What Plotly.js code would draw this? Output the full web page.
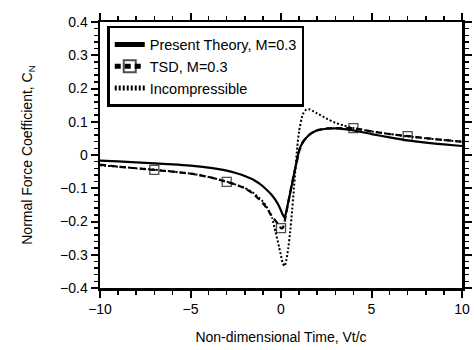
<!DOCTYPE html>
<html>
<head>
<meta charset="utf-8">
<script src="https://cdn.plot.ly/plotly-3.0.1.min.js"></script>
<style>html,body{margin:0;padding:0;background:#fff;}#chart{width:474px;height:350px;}</style>
</head>
<body>
<div id="chart"></div>
<script>
// Non-dimensional time Vt/c
const time = [-10,-9,-8,-7,-6,-5,-4,-3,-2.5,-2,-1.5,-1,-0.75,-0.5,-0.3,-0.1,0,0.1,0.2,0.3,0.4,0.5,0.6,0.7,0.8,0.9,1,1.2,1.4,1.6,1.8,2,2.5,3,3.5,4,5,6,7,8,9,10];
// Present Theory, M=0.3
const presentTheory = [-0.017,-0.019,-0.022,-0.025,-0.028,-0.032,-0.038,-0.047,-0.054,-0.063,-0.075,-0.094,-0.107,-0.121,-0.136,-0.155,-0.167,-0.180,-0.189,-0.168,-0.142,-0.116,-0.090,-0.063,-0.037,-0.012,0.014,0.038,0.052,0.062,0.069,0.074,0.079,0.080,0.078,0.074,0.063,0.053,0.044,0.037,0.032,0.027];
// TSD, M=0.3
const tsd = [-0.029,-0.035,-0.040,-0.045,-0.050,-0.056,-0.066,-0.081,-0.089,-0.100,-0.118,-0.145,-0.163,-0.184,-0.198,-0.212,-0.220,-0.219,-0.200,-0.172,-0.143,-0.114,-0.087,-0.061,-0.036,-0.012,0.011,0.038,0.053,0.063,0.070,0.075,0.080,0.081,0.081,0.081,0.071,0.063,0.057,0.051,0.045,0.040];
// TSD marker positions (x values where squares are drawn)
const tsdMarkerTimes = [-7,-3,0,4,7];
// Incompressible
const incompressible = [-0.031,-0.035,-0.040,-0.044,-0.050,-0.056,-0.066,-0.080,-0.089,-0.099,-0.115,-0.140,-0.160,-0.188,-0.232,-0.278,-0.303,-0.326,-0.334,-0.315,-0.280,-0.235,-0.175,-0.110,-0.040,0.025,0.072,0.122,0.137,0.137,0.131,0.125,0.110,0.097,0.088,0.081,0.071,0.063,0.056,0.050,0.045,0.040];

const names = ['Present Theory, M=0.3','TSD, M=0.3','Incompressible'];

const markerSizes = time.map(t => tsdMarkerTimes.includes(t) ? 9 : 0);

const traces = [
  {x: time, y: presentTheory, name: names[0], mode: 'lines', line: {color: '#000', width: 2.2, shape: 'spline', smoothing: 0.5}},
  {x: time, y: tsd, name: names[1], mode: 'lines+markers', line: {color: '#000', width: 2.2, dash: '6px,4px', shape: 'spline', smoothing: 0.5},
   marker: {symbol: 'square-open', size: markerSizes, color: '#000', line: {width: 1.3, color: '#000'}}},
  {x: time, y: incompressible, name: names[2], mode: 'lines', line: {color: '#000', width: 2, dash: '2px,2px', shape: 'spline', smoothing: 0.5}}
];

const font = {family: 'Liberation Sans, Arial, sans-serif', color: '#000'};

const layout = {
  width: 474, height: 350,
  margin: {l: 100, r: 12, t: 22, b: 62},
  paper_bgcolor: '#fff', plot_bgcolor: '#fff',
  font: font,
  showlegend: true,
  legend: {x: 0.02, y: 0.985, xanchor: 'left', yanchor: 'top', bgcolor: '#fff', bordercolor: '#000', borderwidth: 2.5,
           font: {family: font.family, size: 14.5, color: '#000'}, itemsizing: 'constant', tracegroupgap: 0},
  xaxis: {
    range: [-10, 10], dtick: 5, tick0: -10, showgrid: false, zeroline: false,
    showline: true, linecolor: '#000', linewidth: 2.5, mirror: 'allticks',
    ticks: 'outside', ticklen: 7, tickwidth: 2, tickcolor: '#000',
    minor: {dtick: 1, ticks: 'outside', ticklen: 4, tickwidth: 1.5, tickcolor: '#000', showgrid: false},
    tickfont: {family: font.family, size: 14, color: '#000'},
    title: {text: 'Non-dimensional Time, Vt/c', font: {family: font.family, size: 14, color: '#000'}, standoff: 16}
  },
  yaxis: {
    range: [-0.4, 0.4], dtick: 0.1, showgrid: false, zeroline: false,
    showline: true, linecolor: '#000', linewidth: 2.5, mirror: 'allticks',
    ticks: 'outside', ticklen: 7, tickwidth: 2, tickcolor: '#000',
    minor: {dtick: 0.02, ticks: 'outside', ticklen: 4, tickwidth: 1.5, tickcolor: '#000', showgrid: false},
    tickfont: {family: font.family, size: 14, color: '#000'},
    tickformat: '.1~f',
    title: {text: 'Normal Force Coefficient, C<sub>N</sub>', font: {family: font.family, size: 14, color: '#000'}, standoff: 24}
  }
};

Plotly.newPlot('chart', traces, layout, {staticPlot: true, displayModeBar: false});
</script>
</body>
</html>
